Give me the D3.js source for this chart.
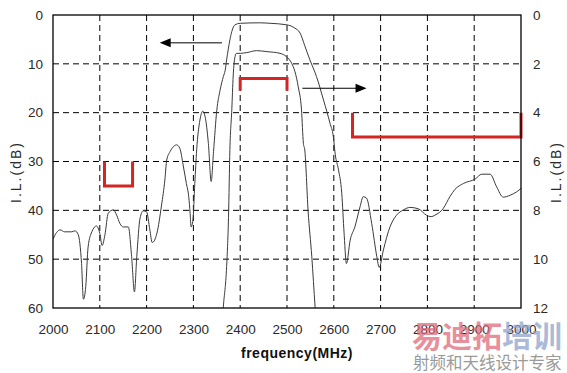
<!DOCTYPE html>
<html>
<head>
<meta charset="utf-8">
<script src="https://cdn.jsdelivr.net/npm/d3@7"></script>
<style>
  body { margin: 0; background: #fff; }
  svg { display: block; font-family: Arial, "Liberation Sans", sans-serif; }
</style>
</head>
<body>
<div id="chart"></div>
<script>
// wideband response, left axis (dB)
var wideFreq = [2000,2008,2015,2025,2040,2047,2054,2061,2065,2070,2075,2083,2093,2100,2105,2111,2118,2129,2136,2143,2150,2161,2168,2174,2179,2186,2193,2200,2207,2212,2222,2232,2239,2243,2250,2257,2264,2271,2278,2285,2290,2293,2295,2299,2303,2307,2314,2320,2325,2332,2338,2343,2350,2357,2364,2368,2371,2378,2382,2389,2400,2442,2464,2499,2517,2528,2538,2549,2563,2578,2592,2599,2603,2610,2617,2622,2627,2635,2645,2656,2663,2670,2681,2692,2697,2706,2720,2734,2749,2763,2781,2798,2808,2816,2834,2848,2859,2877,2902,2916,2934,2948,2962,2977,2991,3000];
var wideIL = [45.9,44.5,44.0,44.4,44.4,44.2,45.0,50.9,58.2,55.6,47.5,44.4,43.2,44.7,47.2,45.0,40.6,39.9,41.0,42.7,43.4,43.4,49.5,56.7,49.5,41.6,40.1,40.3,44.0,46.6,44.7,38.9,33.8,29.7,28.0,27.0,26.6,27.3,30.7,34.5,37.2,40.6,43.4,42.0,34.5,27.6,21.5,19.7,20.8,26.3,34.1,28.0,19.5,15.4,12.6,11.3,9.2,5.1,3.4,2.0,1.7,1.6,1.7,2.0,2.7,3.7,6.3,9.2,12.6,17.4,22.2,24.9,28.5,31.7,36.5,44.7,50.9,46.1,43.4,39.3,37.2,37.5,42.7,49.5,51.7,48.1,43.4,41.0,39.9,39.4,39.7,41.0,41.3,41.0,39.6,37.2,35.7,34.5,33.6,32.6,32.6,35.2,37.3,36.9,36.2,35.5];

// passband detail, right axis (dB)
var passFreq = [2362,2364,2371,2375,2378,2382,2385,2389,2392,2400,2414,2435,2457,2485,2499,2510,2517,2524,2531,2535,2538,2545,2553,2560,2562];
var passIL = [12.5,11.95,10.3,8.3,5.5,3.9,2.5,1.7,1.57,1.57,1.54,1.46,1.5,1.57,1.71,1.98,2.32,2.94,3.89,5.25,5.53,8.0,9.9,11.95,12.5];

var xTicks = [2000,2100,2200,2300,2400,2500,2600,2700,2800,2900,3000];
var leftTicks = [0,10,20,30,40,50,60];
var rightTicks = [0,2,4,6,8,10,12];

// spec masks
var masks = [
  { f: [2110, 2170], ends: 30, bar: 35, axis: "left" },
  { f: [2400, 2500], ends: 3.1, bar: 2.6, axis: "right" },
  { f: [2640, 3000], ends: 4, bar: 5, axis: "right" }
];
// arrows pointing at each curve's axis
var arrows = [
  { from: 2361, to: 2228, level: 5.7, axis: "left" },
  { from: 2533, to: 2670, level: 3.0, axis: "right" }
];

var W = 567, H = 373;
var margin = { top: 15, right: 46, bottom: 65, left: 53 };
var w = W - margin.left - margin.right;
var h = H - margin.top - margin.bottom;

var svg = d3.select("#chart").append("svg")
  .attr("width", W)
  .attr("height", H);

var g = svg.append("g")
  .attr("transform", "translate(" + margin.left + "," + margin.top + ")");

var x = d3.scaleLinear().domain([2000, 3000]).range([0, w]);
var yL = d3.scaleLinear().domain([0, 60]).range([0, h]);
var yR = d3.scaleLinear().domain([0, 12]).range([0, h]);
var yOf = function(axis) { return axis === "left" ? yL : yR; };

svg.append("defs").append("clipPath").attr("id", "clip")
  .append("rect").attr("width", w).attr("height", h);

// dashed grid
g.selectAll(".vgrid")
  .data(xTicks.slice(1, -1))
  .enter().append("line")
  .attr("x1", function(d) { return x(d); })
  .attr("x2", function(d) { return x(d); })
  .attr("y1", 0).attr("y2", h)
  .attr("stroke", "#000").attr("stroke-dasharray", "6,4");

g.selectAll(".hgrid")
  .data(leftTicks.slice(1, -1))
  .enter().append("line")
  .attr("y1", function(d) { return yL(d); })
  .attr("y2", function(d) { return yL(d); })
  .attr("x1", 0).attr("x2", w)
  .attr("stroke", "#000").attr("stroke-dasharray", "6,4");

// curves
var plot = g.append("g").attr("clip-path", "url(#clip)");

var wideLine = d3.line()
  .x(function(d, i) { return x(wideFreq[i]); })
  .y(function(d) { return yL(d); })
  .curve(d3.curveMonotoneX);

var passLine = d3.line()
  .x(function(d, i) { return x(passFreq[i]); })
  .y(function(d) { return yR(d); })
  .curve(d3.curveMonotoneX);

plot.append("path")
  .attr("d", wideLine(wideIL))
  .attr("fill", "none").attr("stroke", "#3a3a3a").attr("stroke-width", 1);

plot.append("path")
  .attr("d", passLine(passIL))
  .attr("fill", "none").attr("stroke", "#3a3a3a").attr("stroke-width", 1);

// red spec brackets
masks.forEach(function(m) {
  var ys = yOf(m.axis);
  var x0 = x(m.f[0]), x1 = x(m.f[1]);
  g.append("path")
    .attr("d", "M" + x0 + "," + ys(m.ends) + "V" + ys(m.bar) + "H" + x1 + "V" + ys(m.ends))
    .attr("fill", "none")
    .attr("stroke", "#d42525")
    .attr("stroke-width", 3);
});

// arrows
arrows.forEach(function(a) {
  var yy = yOf(a.axis)(a.level);
  var xa = x(a.from), xb = x(a.to);
  var dir = xb > xa ? 1 : -1;
  g.append("line")
    .attr("x1", xa).attr("x2", xb - dir * 8)
    .attr("y1", yy).attr("y2", yy)
    .attr("stroke", "#000").attr("stroke-width", 1);
  g.append("path")
    .attr("d", "M" + xb + "," + yy + "L" + (xb - dir * 11) + "," + (yy - 4.5) + "L" + (xb - dir * 11) + "," + (yy + 4.5) + "Z")
    .attr("fill", "#000");
});

// frame
g.append("rect")
  .attr("width", w).attr("height", h)
  .attr("fill", "none").attr("stroke", "#000").attr("stroke-width", 1.3);

// axes
var xAxis = d3.axisBottom(x).tickValues(xTicks).tickSize(0).tickPadding(16).tickFormat(d3.format("d"));
var leftAxis = d3.axisLeft(yL).tickValues(leftTicks).tickSize(0).tickPadding(10);
var rightAxis = d3.axisRight(yR).tickValues(rightTicks).tickSize(0).tickPadding(12);

var ax = g.append("g").attr("transform", "translate(0," + h + ")").call(xAxis);
var al = g.append("g").call(leftAxis);
var ar = g.append("g").attr("transform", "translate(" + w + ",0)").call(rightAxis);

[ax, al, ar].forEach(function(a) {
  a.select(".domain").remove();
  a.selectAll("text")
    .attr("fill", "#2a2a2a")
    .style("font-size", "13.5px")
    .style("font-family", "Arial, 'Liberation Sans', sans-serif");
});

// axis titles
svg.append("text")
  .attr("transform", "translate(21,172) rotate(-90)")
  .attr("text-anchor", "middle")
  .attr("fill", "#2a2a2a")
  .style("font-size", "14px")
  .style("letter-spacing", "2px")
  .text("I.L.(dB)");

svg.append("text")
  .attr("transform", "translate(561,172) rotate(-90)")
  .attr("text-anchor", "middle")
  .attr("fill", "#2a2a2a")
  .style("font-size", "14px")
  .style("letter-spacing", "2px")
  .text("I.L.(dB)");

svg.append("text")
  .attr("x", 297)
  .attr("y", 358)
  .attr("text-anchor", "middle")
  .attr("fill", "#111")
  .style("font-size", "14px")
  .style("font-weight", "bold")
  .style("letter-spacing", "0.5px")
  .text("frequency(MHz)");

// watermark
var wm = svg.append("text")
  .attr("x", 412).attr("y", 347)
  .style("font-family", "'Noto Sans CJK SC', sans-serif")
  .style("font-size", "30px")
  .style("font-weight", "bold");
wm.append("tspan").attr("fill", "#e06a7a").attr("fill-opacity", 0.75).text("易迪拓");
wm.append("tspan").attr("fill", "#8fa3cc").attr("fill-opacity", 0.75).text("培训");

svg.append("text")
  .attr("x", 413).attr("y", 369)
  .attr("fill", "#9a9a9a")
  .style("font-family", "'Noto Sans CJK SC', sans-serif")
  .style("font-size", "16.5px")
  .text("射频和天线设计专家");
</script>
</body>
</html>
